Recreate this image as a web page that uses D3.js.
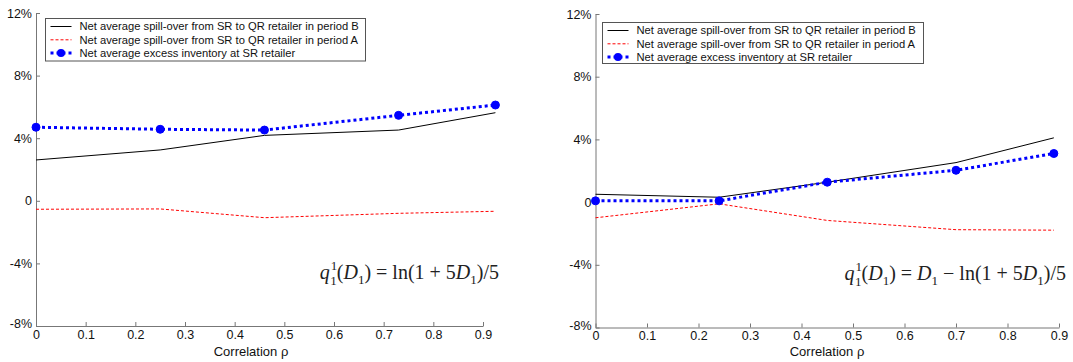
<!DOCTYPE html>
<html><head><meta charset="utf-8">
<script src="https://cdn.jsdelivr.net/npm/d3@7"></script>
<style>
html,body{margin:0;padding:0;background:#fff;}
svg{display:block;font-family:"Liberation Sans",Arial,sans-serif;}
</style></head>
<body>
<svg id="chart" width="1073" height="362"></svg>
<script>
// ---- data ----
const xTicks = [0, 0.1, 0.2, 0.3, 0.4, 0.5, 0.6, 0.7, 0.8, 0.9];
const yTicks = [12, 8, 4, 0, -4, -8];
const seriesNames = [
  "Net average spill-over from SR to QR retailer in period B",
  "Net average spill-over from SR to QR retailer in period A",
  "Net average excess inventory at SR retailer"
];
const rhoLeft     = [0, 0.25, 0.46, 0.73, 0.925];
const spillBLeft  = [2.61, 3.25, 4.18, 4.52, 5.63];
const spillALeft  = [-0.54, -0.52, -1.08, -0.80, -0.67];
const excessLeft  = [4.70, 4.57, 4.52, 5.46, 6.12];
const rhoRight    = [0, 0.24, 0.45, 0.70, 0.89];
const spillBRight = [0.50, 0.31, 1.27, 2.52, 4.10];
const spillARight = [-1.00, -0.11, -1.17, -1.76, -1.79];
const excessRight = [0.08, 0.08, 1.27, 2.03, 3.10];
const xLabel = "Correlation \u03c1";

// ---- layout ----
const panels = [
  {x0:36, x1:483, yTop:13, yBot:326, rho:rhoLeft, b:spillBLeft, a:spillALeft, e:excessLeft,
   legend:{x:45.5, y:18.5, w:320, h:42.5}, xLabelX:251, formula:"left", fx:499, fy:279},
  {x0:595.5, x1:1059, yTop:14, yBot:327.5, rho:rhoRight, b:spillBRight, a:spillARight, e:excessRight,
   legend:{x:602.5, y:22.5, w:321, h:41}, xLabelX:827, formula:"right", fx:1066, fy:280}
];

const svg = d3.select("#chart");
const fmtY = v => v === 0 ? "0" : v + "%";

panels.forEach(p => {
  const x = d3.scaleLinear().domain([0, 0.9]).range([p.x0, p.x1]);
  const y = d3.scaleLinear().domain([-8, 12]).range([p.yBot, p.yTop]);
  const g = svg.append("g");

  // axes
  const ax = g.append("g").attr("transform", `translate(0,${p.yBot})`)
    .call(d3.axisBottom(x).tickValues(xTicks).tickFormat(d3.format(".1~f"))
      .tickSizeInner(-4).tickSizeOuter(0).tickPadding(4));
  const ay = g.append("g").attr("transform", `translate(${p.x0},0)`)
    .call(d3.axisLeft(y).tickValues(yTicks).tickFormat(fmtY)
      .tickSizeInner(-4).tickSizeOuter(0).tickPadding(4));
  [ax, ay].forEach(a => {
    a.attr("font-family", null).attr("font-size", null);
    a.select(".domain").attr("stroke", "#777").attr("stroke-width", 1);
    a.selectAll(".tick line").attr("stroke", "#777");
    a.selectAll("text").attr("font-size", 12.5).attr("fill", "#111");
  });
  ay.selectAll(".tick").filter(d => d === -8).select("text").attr("dy", "0.15em");

  g.append("text").attr("x", p.xLabelX).attr("y", 356).attr("text-anchor", "middle")
    .attr("font-size", 13).attr("fill", "#111").text(xLabel);

  const line = d3.line().x((d, i) => x(p.rho[i])).y(d => y(d));
  g.append("path").datum(p.b).attr("d", line).attr("fill", "none")
    .attr("stroke", "#000").attr("stroke-width", 1);
  g.append("path").datum(p.a).attr("d", line).attr("fill", "none")
    .attr("stroke", "#ff0000").attr("stroke-width", 1).attr("stroke-dasharray", "3,2");
  g.append("path").datum(p.e).attr("d", line).attr("fill", "none")
    .attr("stroke", "#0000ff").attr("stroke-width", 3).attr("stroke-dasharray", "3,3");
  g.selectAll("circle.m").data(p.e).join("circle").attr("class", "m")
    .attr("cx", (d, i) => x(p.rho[i])).attr("cy", d => y(d)).attr("r", 4)
    .attr("fill", "#0000ff").attr("stroke", "#0000ff").attr("stroke-width", 1);

  // legend
  const L = p.legend;
  const lg = g.append("g");
  lg.append("rect").attr("x", L.x).attr("y", L.y).attr("width", L.w).attr("height", L.h)
    .attr("fill", "#fff").attr("stroke", "#555").attr("stroke-width", 1);
  const rowH = 13.3;
  seriesNames.forEach((name, i) => {
    const cy = L.y + 8 + i * rowH;
    const sx0 = L.x + 5, sx1 = L.x + 26;
    const ln = lg.append("line").attr("x1", sx0).attr("x2", sx1).attr("y1", cy).attr("y2", cy);
    if (i === 0) ln.attr("stroke", "#000").attr("stroke-width", 1);
    if (i === 1) ln.attr("stroke", "#ff0000").attr("stroke-width", 1).attr("stroke-dasharray", "3,2");
    if (i === 2) {
      ln.attr("stroke", "#0000ff").attr("stroke-width", 3).attr("stroke-dasharray", "3,3");
      lg.append("circle").attr("cx", (sx0 + sx1) / 2).attr("cy", cy).attr("r", 4).attr("fill", "#0000ff");
    }
    lg.append("text").attr("x", L.x + 34).attr("y", cy).attr("dy", "0.35em")
      .attr("font-size", 11.2).attr("fill", "#111").text(name);
  });

  // formula
  const ft = g.append("text").attr("x", p.fx).attr("y", p.fy).attr("text-anchor", "end")
    .attr("font-family", '"Liberation Serif","DejaVu Serif",serif').attr("font-size", 20)
    .attr("fill", "#222");
  let pend = 0;
  const put = (t, opts = {}) => {
    const s = ft.append("tspan").text(t);
    const dy = pend + (opts.dy || 0);
    pend = -(opts.dy || 0);
    if (dy) s.attr("dy", dy);
    if (opts.dx) s.attr("dx", opts.dx);
    if (opts.italic) s.attr("font-style", "italic");
    if (opts.small) s.attr("font-size", 13);
    return s;
  };
  const it = t => put(t, {italic: true});
  const rm = t => put(t);
  const sub = () => put("1", {small: true, dy: 4.5});
  it("q");
  // stacked super/subscript
  ft.append("tspan").attr("font-size", 13).attr("dx", 1).attr("dy", -9.5).text("1");
  ft.append("tspan").attr("font-size", 13).attr("dx", -6.5).attr("dy", 15).text("1");
  pend = -5.5;
  rm("(");
  it("D"); sub();
  if (p.formula === "left") {
    rm(") = ln(1 + 5"); it("D"); sub(); rm(")/5");
  } else {
    rm(") = "); it("D"); sub(); rm(" \u2212 ln(1 + 5"); it("D"); sub(); rm(")/5");
  }
});
</script>
</body></html>
